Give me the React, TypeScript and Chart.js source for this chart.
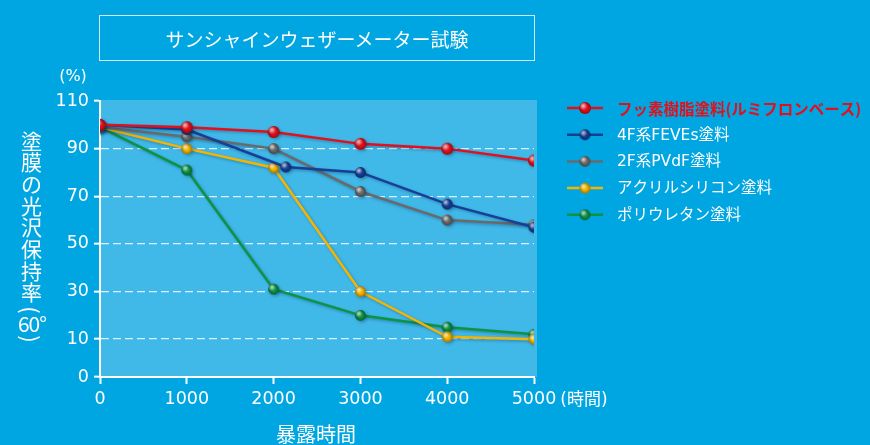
import React, { useEffect, useRef } from "react";
import { Chart, registerables } from "chart.js";

Chart.register(...registerables);

// ---- data ----
const seriesNames = [
  "フッ素樹脂塗料(ルミフロンベース)",
  "4F系FEVEs塗料",
  "2F系PVdF塗料",
  "アクリルシリコン塗料",
  "ポリウレタン塗料",
];
const seriesColors = ["#e2101c", "#173f96", "#6a6a6a", "#f5b400", "#0c9443"];

const hours = [0, 1000, 2000, 3000, 4000, 5000];
const blueHours = [0, 1000, 2140, 3000, 4000, 5000];

const fluoroValues = [100, 99, 97, 92, 90, 85];
const feveValues = [100, 98, 82.3, 80, 66.7, 57];
const pvdfValues = [99, 95, 90, 72, 60, 58];
const acrylSiliconValues = [99, 90, 82, 30, 11, 10];
const urethaneValues = [99, 81, 31, 20, 15, 12];

const xTickValues = [0, 1000, 2000, 3000, 4000, 5000];
const yTickValues = [10, 30, 50, 70, 90, 110];
const yAxisBottom = -5.9; // compressed bottom of the axis, labelled "0"

const yTitleChars = ["塗", "膜", "の", "光", "沢", "保", "持", "率"];
const yTitleAngle = "60°";

const CJK = '"Noto Sans CJK JP", "Noto Sans", sans-serif';
const MIXED = '"DejaVu Sans", "Noto Sans CJK JP", sans-serif';

function makeBall(color: string, r: number): HTMLCanvasElement {
  const s = Math.ceil(r * 2 + 4);
  const c = document.createElement("canvas");
  c.width = s;
  c.height = s;
  const g = c.getContext("2d")!;
  const cx = s / 2;
  const cy = s / 2;
  g.beginPath();
  g.arc(cx, cy, r, 0, Math.PI * 2);
  g.fillStyle = color;
  g.fill();
  const dark = g.createRadialGradient(cx, cy, r * 0.4, cx, cy, r);
  dark.addColorStop(0, "rgba(0,0,0,0)");
  dark.addColorStop(1, "rgba(0,0,0,0.35)");
  g.fillStyle = dark;
  g.fill();
  const hl = g.createRadialGradient(cx - r * 0.3, cy - r * 0.35, 0, cx - r * 0.3, cy - r * 0.35, r * 0.7);
  hl.addColorStop(0, "rgba(255,255,255,0.75)");
  hl.addColorStop(1, "rgba(255,255,255,0)");
  g.fillStyle = hl;
  g.fill();
  return c;
}

function toPoints(xs: number[], ys: number[]) {
  return xs.map((x, i) => ({ x, y: ys[i] }));
}

export default function App() {
  const ref = useRef<HTMLCanvasElement>(null);

  useEffect(() => {
    if (!ref.current) return;
    const balls = seriesColors.map((c, i) => makeBall(c, i === 0 ? 6 : 5.4));
    const seriesData = [
      toPoints(hours, fluoroValues),
      toPoints(blueHours, feveValues),
      toPoints(hours, pvdfValues),
      toPoints(hours, acrylSiliconValues),
      toPoints(hours, urethaneValues),
    ];

    const plotBg = {
      id: "plotBg",
      beforeDraw(chart: any) {
        const { ctx, chartArea } = chart;
        ctx.save();
        ctx.fillStyle = "#41b9e8";
        ctx.fillRect(chartArea.left, chartArea.top - 1, chartArea.right - chartArea.left + 3, chartArea.bottom - chartArea.top + 1);
        ctx.restore();
      },
    };

    const shadow = {
      id: "lineShadow",
      beforeDatasetsDraw(chart: any) {
        const ctx = chart.ctx;
        ctx.save();
        ctx.shadowColor = "rgba(0,40,80,0.35)";
        ctx.shadowBlur = 3;
        ctx.shadowOffsetX = 1.5;
        ctx.shadowOffsetY = 1.5;
      },
      afterDatasetsDraw(chart: any) {
        chart.ctx.restore();
      },
    };

    const legendPlugin = {
      id: "customLegend",
      afterDraw(chart: any) {
        const ctx = chart.ctx;
        ctx.save();
        seriesNames.forEach((name, i) => {
          const y = 108 + i * 26.7;
          ctx.strokeStyle = seriesColors[i];
          ctx.lineWidth = 2.5;
          ctx.beginPath();
          ctx.moveTo(567, y);
          ctx.lineTo(603, y);
          ctx.stroke();
          const b = balls[i];
          ctx.drawImage(b, 585 - b.width / 2, y - b.height / 2);
          ctx.font = `${i === 0 ? "bold " : ""}15.5px ${i === 0 ? CJK : MIXED}`;
          ctx.fillStyle = i === 0 ? "#e2101c" : "#ffffff";
          ctx.textBaseline = "middle";
          ctx.textAlign = "left";
          ctx.fillText(name, 617, y + 1);
        });
        ctx.restore();
      },
    };

    const chart = new Chart(ref.current, {
      type: "line",
      data: {
        datasets: seriesNames.map((name, i) => ({
          label: name,
          data: seriesData[i],
          borderColor: seriesColors[i],
          backgroundColor: seriesColors[i],
          borderWidth: 2.5,
          pointStyle: balls[i] as any,
          pointRadius: 5,
          tension: 0,
          fill: false,
        })),
      },
      options: {
        animation: false,
        responsive: false,
        devicePixelRatio: 1,
        layout: { padding: { left: 0, top: 101, right: 336, bottom: 0 } },
        plugins: {
          legend: { display: false },
          tooltip: { enabled: false },
        },
        scales: {
          x: {
            type: "linear",
            min: 0,
            max: 5000,
            afterFit: (s: any) => {
              s.height = 68;
            },
            afterBuildTicks: (s: any) => {
              s.ticks = xTickValues.map((v) => ({ value: v }));
            },
            ticks: {
              color: "#ffffff",
              font: { family: '"DejaVu Sans", sans-serif', size: 17.5 },
              padding: 5,
              maxRotation: 0,
              callback: (v: any) => String(v),
            },
            grid: {
              drawOnChartArea: false,
              drawTicks: true,
              tickLength: 7,
              tickColor: "#ffffff",
              tickWidth: 2,
            },
            border: { color: "#ffffff", width: 2 },
          },
          y: {
            type: "linear",
            min: yAxisBottom,
            max: 110,
            afterFit: (s: any) => {
              s.width = 100;
            },
            afterBuildTicks: (s: any) => {
              s.ticks = [yAxisBottom, ...yTickValues].map((v) => ({ value: v }));
            },
            ticks: {
              color: "#ffffff",
              font: { family: '"DejaVu Sans", sans-serif', size: 17.5 },
              padding: 5,
              callback: (v: any) => (Number(v) < 0 ? "0" : String(v)),
            },
            grid: {
              color: (c: any) =>
                c.tick && (c.tick.value === yAxisBottom || c.tick.value === 110)
                  ? "rgba(0,0,0,0)"
                  : "rgba(255,255,255,0.8)",
              lineWidth: 1.3,
              drawTicks: true,
              tickLength: 6,
              tickColor: "#ffffff",
              tickWidth: 2,
              tickBorderDash: [],
            },
            border: { color: "#ffffff", width: 2, dash: [8, 4] },
          },
        },
      },
      plugins: [plotBg, shadow, legendPlugin],
    });
    return () => chart.destroy();
  }, []);

  const centered = (x: number, y: number, extra: any = {}) => ({
    position: "absolute" as const,
    left: x,
    top: y,
    transform: "translate(-50%, -50%)",
    lineHeight: 1,
    whiteSpace: "nowrap" as const,
    ...extra,
  });

  return (
    <div
      style={{
        position: "relative",
        width: 870,
        height: 445,
        background: "#00a6e1",
        overflow: "hidden",
        fontFamily: CJK,
        color: "#ffffff",
      }}
    >
      <style>{`body{margin:0;}`}</style>
      <canvas ref={ref} width={870} height={445} style={{ position: "absolute", left: 0, top: 0 }} />
      <div
        style={{
          position: "absolute",
          left: 99,
          top: 15,
          width: 436,
          height: 46,
          boxSizing: "border-box",
          border: "1.5px solid rgba(255,255,255,0.8)",
          display: "flex",
          alignItems: "center",
          justifyContent: "center",
          fontSize: 19,
        }}
      >
        サンシャインウェザーメーター試験
      </div>
      <div style={centered(73, 76, { fontSize: 16, fontFamily: MIXED })}>(%)</div>
      {yTitleChars.map((ch, i) => (
        <div key={i} style={centered(31.5, 139.5 + i * 21.7, { fontSize: 21 })}>
          {ch}
        </div>
      ))}
      <div style={centered(32, 310, { fontSize: 22, transform: "translate(-50%, -50%) rotate(90deg)" })}>(</div>
      <div style={centered(32, 323, { fontSize: 21, letterSpacing: -1 })}>{yTitleAngle}</div>
      <div style={centered(32, 339, { fontSize: 22, transform: "translate(-50%, -50%) rotate(90deg)" })}>)</div>
      <div style={centered(584, 399, { fontSize: 17, fontFamily: MIXED })}>(時間)</div>
      <div style={centered(316, 434, { fontSize: 20 })}>暴露時間</div>
    </div>
  );
}
